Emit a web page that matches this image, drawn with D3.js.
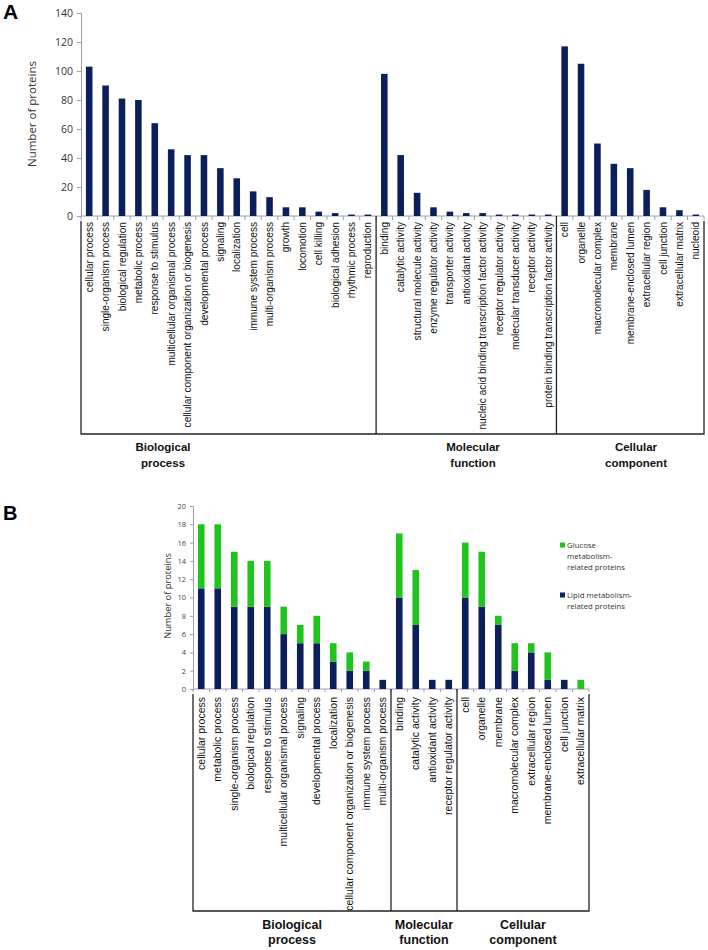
<!DOCTYPE html>
<html><head><meta charset="utf-8">
<script src="https://cdn.jsdelivr.net/npm/d3@7"></script>
<style>body{margin:0;background:#fff}svg{display:block}</style>
</head><body>
<script>
// ---------- Panel A data ----------
const bpCatsA = ["cellular process","single-organism process","biological regulation","metabolic process","response to stimulus","multicellular organismal process","cellular component organization or biogenesis","developmental process","signaling","localization","immune system process","multi-organism process","growth","locomotion","cell killing","biological adhesion","rhythmic process","reproduction"];
const bpValsA = [103,90,81,80,64,46,42,42,33,26,17,13,6,6,3,2,1,1];
const mfCatsA = ["binding","catalytic activity","structural molecule activity","enzyme regulator activity","transporter activity","antioxidant activity","nucleic acid binding transcription factor activity","receptor regulator activity","molecular transducer activity","receptor activity","protein binding transcription factor activity"];
const mfValsA = [98,42,16,6,3,2,2,1,1,1,1];
const ccCatsA = ["cell","organelle","macromolecular complex","membrane","membrane-enclosed lumen","extracellular region","cell junction","extracellular matrix","nucleoid"];
const ccValsA = [117,105,50,36,33,18,6,4,1];
const yTicksA = [0,20,40,60,80,100,120,140];

// ---------- Panel B data ----------
const bpCatsB = ["cellular process","metabolic process","single-organism process","biological regulation","response to stimulus","multicellular organismal process","signaling","developmental process","localization","cellular component organization or biogenesis","immune system process","multi-organism process"];
const bpLipidB   = [11,11,9,9,9,6,5,5,3,2,2,1];
const bpGlucoseB = [7,7,6,5,5,3,2,3,2,2,1,0];
const mfCatsB = ["binding","catalytic activity","antioxidant activity","receptor regulator activity"];
const mfLipidB   = [10,7,1,1];
const mfGlucoseB = [7,6,0,0];
const ccCatsB = ["cell","organelle","membrane","macromolecular complex","extracellular region","membrane-enclosed lumen","cell junction","extracellular matrix"];
const ccLipidB   = [10,9,7,2,4,1,1,0];
const ccGlucoseB = [6,6,1,3,1,3,0,1];
const yTicksB = [0,2,4,6,8,10,12,14,16,18,20];
const groupNames = [["Biological","process"],["Molecular","function"],["Cellular","component"]];
const legendLabels = [["Glucose","metabolism-","related proteins"],["Lipid metabolism-","related proteins"]];

const NAVY = "#0b1f5c", GREEN = "#1fc41c";
const W = 708, H = 950;
const svg = d3.select("body").append("svg").attr("width", W).attr("height", H);

// ================= Panel A =================
(function(){
  const cats = bpCatsA.concat(mfCatsA, ccCatsA);
  const vals = bpValsA.concat(mfValsA, ccValsA);
  const data = cats.map((c,i)=>({c, v: vals[i]}));
  const x = d3.scaleBand().domain(cats).range([81, 704]).padding(0);
  const y = d3.scaleLinear().domain([0,140]).range([216, 13]);
  const g = svg.append("g");

  svg.append("text").attr("x", 3).attr("y", 19).attr("font-family","Liberation Sans, Arial, sans-serif")
    .attr("font-weight","bold").attr("font-size", 21).text("A");

  const ya = g.append("g").attr("transform","translate(81,0)")
    .call(d3.axisLeft(y).tickValues(yTicksA).tickSize(4).tickPadding(4));
  ya.select(".domain").attr("stroke","#9aa0aa");
  ya.selectAll(".tick line").attr("stroke","#9aa0aa");
  ya.selectAll("text").attr("font-family","Open Sans, sans-serif").attr("font-size",10.5).attr("fill","#333");

  g.append("text").attr("transform","translate(36,114) rotate(-90)")
    .attr("text-anchor","middle").attr("font-family","Open Sans, sans-serif").attr("font-size",11.5)
    .attr("fill","#333").text("Number of proteins");

  g.append("line").attr("x1",81).attr("x2",704).attr("y1",216).attr("y2",216).attr("stroke","#9aa0aa");
  g.selectAll("line.bt").data(cats.concat([null])).enter().append("line")
    .attr("x1", d => d===null ? 704 : x(d)).attr("x2", d => d===null ? 704 : x(d))
    .attr("y1",216).attr("y2",220).attr("stroke","#9aa0aa");

  g.selectAll("rect.bar").data(data).enter().append("rect")
    .attr("x", d => x(d.c) + x.bandwidth()*0.3).attr("width", x.bandwidth()*0.4)
    .attr("y", d => y(d.v)).attr("height", d => y(0) - y(d.v)).attr("fill", NAVY);

  g.selectAll("text.cat").data(cats).enter().append("text")
    .attr("transform", d => `translate(${x(d)+x.bandwidth()/2},222) rotate(-90)`)
    .attr("dy","0.35em").attr("text-anchor","end")
    .attr("font-family","Liberation Sans, Arial, sans-serif").attr("font-size",10.1).attr("fill","#111")
    .text(d => d);

  const s1 = x(mfCatsA[0]), s2 = x(ccCatsA[0]);
  g.append("path").attr("d", `M81,221V434H704V221`).attr("fill","none").attr("stroke","#222").attr("stroke-width",1.3);
  [s1,s2].forEach(sx => g.append("line").attr("x1",sx).attr("x2",sx).attr("y1",216).attr("y2",434)
    .attr("stroke","#222").attr("stroke-width",1.3));

  const lx = [163, 473, 636];
  groupNames.forEach((nm,i)=>{
    const t = g.append("text").attr("text-anchor","middle").attr("font-family","Liberation Sans, Arial, sans-serif")
      .attr("font-weight","bold").attr("font-size",11.5).attr("fill","#111");
    nm.forEach((ln,j)=> t.append("tspan").attr("x", lx[i]).attr("y", 451 + j*15.5).text(ln));
  });
})();

// ================= Panel B =================
(function(){
  const cats = bpCatsB.concat(mfCatsB, ccCatsB);
  const lip = bpLipidB.concat(mfLipidB, ccLipidB);
  const glu = bpGlucoseB.concat(mfGlucoseB, ccGlucoseB);
  const rows = cats.map((c,i)=>({cat:c, lipid: lip[i], glucose: glu[i]}));
  const stack = d3.stack().keys(["lipid","glucose"])(rows);
  const x = d3.scaleBand().domain(cats).range([193, 589]).padding(0);
  const y = d3.scaleLinear().domain([0,20]).range([689, 506]);
  const color = d3.scaleOrdinal().domain(["lipid","glucose"]).range([NAVY, GREEN]);
  const g = svg.append("g");

  svg.append("text").attr("x", 3).attr("y", 520).attr("font-family","Liberation Sans, Arial, sans-serif")
    .attr("font-weight","bold").attr("font-size", 20).text("B");

  const ya = g.append("g").attr("transform","translate(193,0)")
    .call(d3.axisLeft(y).tickValues(yTicksB).tickSize(3).tickPadding(4));
  ya.select(".domain").attr("stroke","#9aa0aa");
  ya.selectAll(".tick line").attr("stroke","#9aa0aa");
  ya.selectAll("text").attr("font-family","Open Sans, sans-serif").attr("font-size",7.5).attr("fill","#444");

  g.append("text").attr("transform","translate(171,596) rotate(-90)")
    .attr("text-anchor","middle").attr("font-family","Open Sans, sans-serif").attr("font-size",9.3)
    .attr("fill","#333").text("Number of proteins");

  g.append("line").attr("x1",193).attr("x2",589).attr("y1",689).attr("y2",689).attr("stroke","#9aa0aa");
  g.selectAll("line.bt").data(cats.concat([null])).enter().append("line")
    .attr("x1", d => d===null ? 589 : x(d)).attr("x2", d => d===null ? 589 : x(d))
    .attr("y1",689).attr("y2",692).attr("stroke","#9aa0aa");

  g.selectAll("g.layer").data(stack).enter().append("g").attr("fill", d => color(d.key))
    .selectAll("rect").data(d => d).enter().append("rect")
    .attr("x", d => x(d.data.cat) + x.bandwidth()*0.3).attr("width", x.bandwidth()*0.4)
    .attr("y", d => y(d[1])).attr("height", d => y(d[0]) - y(d[1]));

  g.selectAll("text.cat").data(cats).enter().append("text")
    .attr("transform", d => `translate(${x(d)+x.bandwidth()/2},697) rotate(-90)`)
    .attr("dy","0.35em").attr("text-anchor","end")
    .attr("font-family","Liberation Sans, Arial, sans-serif").attr("font-size",10.5).attr("fill","#111")
    .text(d => d);

  const s1 = x(mfCatsB[0]), s2 = x(ccCatsB[0]);
  g.append("path").attr("d", `M193,694V911H589V694`).attr("fill","none").attr("stroke","#222").attr("stroke-width",1.3);
  [s1,s2].forEach(sx => g.append("line").attr("x1",sx).attr("x2",sx).attr("y1",689).attr("y2",911)
    .attr("stroke","#222").attr("stroke-width",1.3));

  const spans = [[193,s1],[s1,s2],[s2,589]];
  groupNames.forEach((nm,i)=>{
    const cx = (spans[i][0]+spans[i][1])/2;
    const t = g.append("text").attr("text-anchor","middle").attr("font-family","Liberation Sans, Arial, sans-serif")
      .attr("font-weight","bold").attr("font-size",12.5).attr("fill","#111");
    nm.forEach((ln,j)=> t.append("tspan").attr("x", cx).attr("y", 929 + j*15).text(ln));
  });

  const keys = ["glucose","lipid"];
  const ly = [545, 595];
  keys.forEach((k,i)=>{
    g.append("rect").attr("x",560).attr("y",ly[i]-2.5).attr("width",5).attr("height",5).attr("fill",color(k));
    const t = g.append("text").attr("font-family","Open Sans, sans-serif").attr("font-size",7.8).attr("fill","#333");
    legendLabels[i].forEach((ln,j)=> t.append("tspan").attr("x",567).attr("y", ly[i]+2.8 + j*11.3).text(ln));
  });
})();
</script>
</body></html>
